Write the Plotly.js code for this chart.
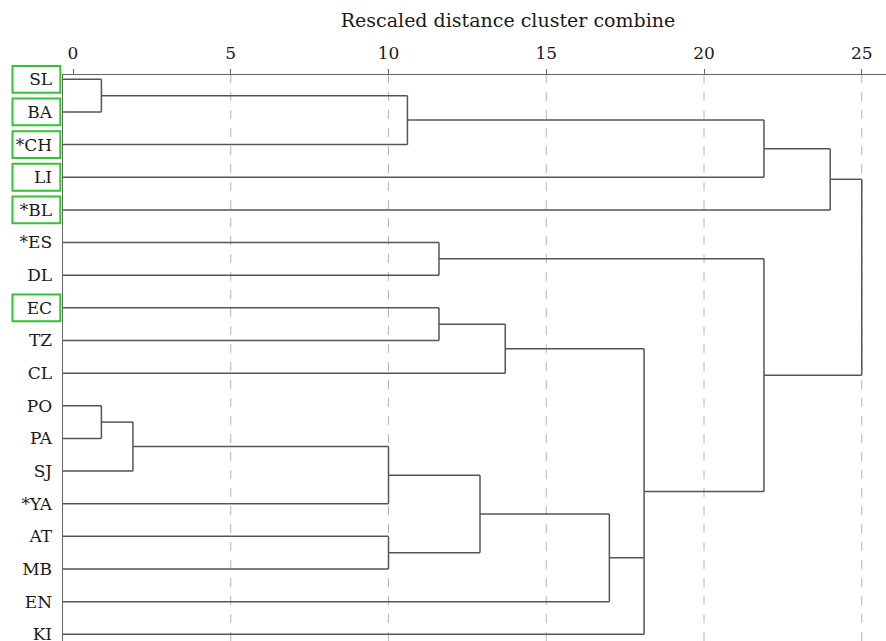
<!DOCTYPE html>
<html>
<head>
<meta charset="utf-8">
<script src="https://cdn.plot.ly/plotly-3.0.1.min.js"></script>
<style>html,body{margin:0;padding:0;background:#fff;}#chart{width:886px;height:641px;}</style>
</head>
<body>
<div id="chart"></div>
<script>
// Leaf labels, top to bottom
const leaves = ['SL','BA','*CH','LI','*BL','*ES','DL','EC','TZ','CL','PO','PA','SJ','*YA','AT','MB','EN','KI'];
// Leaves highlighted with a green frame
const boxedLeaves = ['SL','BA','*CH','LI','*BL','EC'];
// Agglomeration steps: children (leaf index 0-17, merged clusters numbered from 18 on)
const mergeChildren = [[0,1],[18,2],[19,3],[20,4],[5,6],[7,8],[23,9],[10,11],[25,12],[26,13],[14,15],[27,28],[29,16],[24,30,17],[22,31],[21,32]];
// Rescaled distance at which each step joins
const mergeHeights = [0.9,10.6,21.9,24.0,11.6,11.6,13.7,0.9,1.9,10.0,10.0,12.9,17.0,18.1,21.9,25.0];
// Axis ticks
const tickValues = [0,5,10,15,20,25];
const gridValues = [5,10,15,20,25];

const XMIN = -0.317, XMAX = 25.768;
const YTOP = -0.132, YBOT = 17.205;
const FONT = 'DejaVu Serif';

const nodeY = leaves.map((_, i) => i);
const nodeH = leaves.map(() => XMIN);
const xs = [], ys = [];
mergeChildren.forEach((ch, k) => {
  const h = mergeHeights[k];
  const cy = ch.map(c => nodeY[c]);
  const lo = Math.min(...cy), hi = Math.max(...cy);
  ch.forEach(c => { xs.push(nodeH[c], h, null); ys.push(nodeY[c], nodeY[c], null); });
  xs.push(h, h, null); ys.push(lo, hi, null);
  nodeY.push((lo + hi) / 2);
  nodeH.push(h);
});

// y (leaf index) -> paper fraction, so frames may extend past the plot edge unclipped
const toPaperY = v => (YBOT - v) / (YBOT - YTOP);

const shapes = [];
gridValues.forEach(v => shapes.push({type:'line', xref:'x', yref:'paper', x0:v, x1:v, y0:0, y1:1,
  line:{color:'#b5b5b5', width:1, dash:'dash'}, layer:'below'}));
boxedLeaves.forEach(name => {
  const i = leaves.indexOf(name);
  shapes.push({type:'rect', xref:'paper', yref:'paper', x0:(12.5-63)/823, x1:(60.3-63)/823,
    y0:toPaperY(i+0.41), y1:toPaperY(i-0.41),
    line:{color:'#33c233', width:2}, fillcolor:'rgba(0,0,0,0)'});
});

const trace = {type:'scatter', mode:'lines', x:xs, y:ys, line:{color:'#555', width:1.5}, hoverinfo:'skip', showlegend:false};

const layout = {
  width:886, height:641,
  margin:{l:63, r:0, t:75, b:0, pad:0},
  paper_bgcolor:'#fff', plot_bgcolor:'#fff',
  title:{text:'Rescaled distance cluster combine', font:{family:FONT, size:19, color:'#1a1a1a'},
    x:508/886, xref:'container', xanchor:'center', y:1-20/641, yref:'container', yanchor:'middle'},
  xaxis:{side:'top', range:[XMIN, XMAX], tickvals:tickValues, ticktext:tickValues.map(String),
    showline:true, linecolor:'#666', linewidth:1.5, ticks:'outside', ticklen:5, tickcolor:'#666',
    ticklabelstandoff:3,
    tickfont:{family:FONT, size:17, color:'#1a1a1a'}, showgrid:false, zeroline:false},
  yaxis:{range:[YBOT, YTOP], tickvals:leaves.map((_, i) => i), ticktext:leaves,
    showline:true, linecolor:'#666', linewidth:1.5, ticks:'', ticklabelstandoff:6, ticklabeloverflow:'allow',
    tickfont:{family:FONT, size:17, color:'#1a1a1a'}, showgrid:false, zeroline:false},
  shapes:shapes
};
Plotly.newPlot('chart', [trace], layout, {staticPlot:true, displayModeBar:false});
</script>
</body>
</html>
